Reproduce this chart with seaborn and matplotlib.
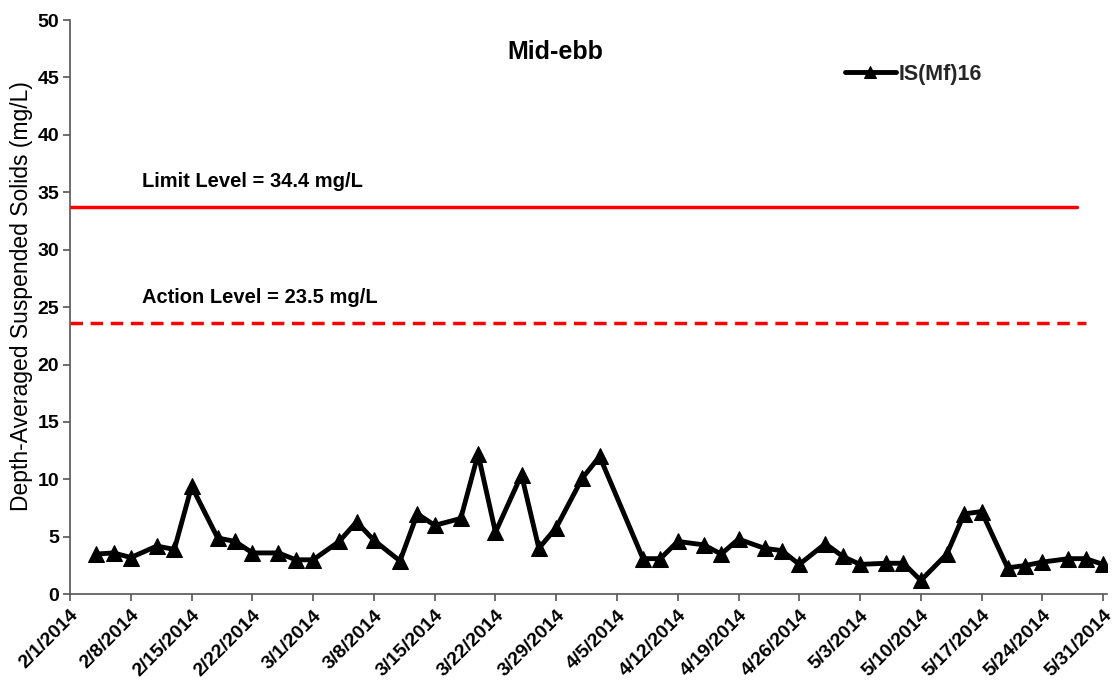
import numpy as np
import pandas as pd
import seaborn as sns
import matplotlib.pyplot as plt
import matplotlib.dates as mdates

# fechas de muestreo y SS promedio en profundidad (mg/L)
dates = ["2014-02-04", "2014-02-06", "2014-02-08", "2014-02-11", "2014-02-13",
         "2014-02-15", "2014-02-18", "2014-02-20", "2014-02-22", "2014-02-25",
         "2014-02-27", "2014-03-01", "2014-03-04", "2014-03-06", "2014-03-08",
         "2014-03-11", "2014-03-13", "2014-03-15", "2014-03-18", "2014-03-20",
         "2014-03-22", "2014-03-25", "2014-03-27", "2014-03-29", "2014-04-01",
         "2014-04-03", "2014-04-08", "2014-04-10", "2014-04-12", "2014-04-15",
         "2014-04-17", "2014-04-19", "2014-04-22", "2014-04-24", "2014-04-26",
         "2014-04-29", "2014-05-01", "2014-05-03", "2014-05-06", "2014-05-08",
         "2014-05-10", "2014-05-13", "2014-05-15", "2014-05-17", "2014-05-20",
         "2014-05-22", "2014-05-24", "2014-05-27", "2014-05-29", "2014-05-31"]
ss = [3.5, 3.6, 3.2, 4.2, 3.9, 9.4, 4.9, 4.6, 3.6, 3.6,
      3.0, 3.0, 4.6, 6.3, 4.7, 2.9, 7.0, 6.0, 6.6, 12.2,
      5.4, 10.4, 4.0, 5.8, 10.1, 12.0, 3.1, 3.1, 4.6, 4.3,
      3.5, 4.8, 4.0, 3.8, 2.6, 4.4, 3.3, 2.6, 2.7, 2.7,
      1.2, 3.5, 7.0, 7.2, 2.3, 2.5, 2.8, 3.1, 3.1, 2.6]

limit_line = 33.7
action_line = 23.6
limit_dates = ["2014-02-01", "2014-05-28"]
action_dates = ["2014-02-01", "2014-05-29"]

tick_dates = pd.date_range("2014-02-01", "2014-05-31", freq="7D")

df = pd.DataFrame({"fecha": pd.to_datetime(dates), "ss": ss})

sns.set_style("ticks")
plt.rcParams['font.family'] = ['Liberation Sans', 'DejaVu Sans']

fig = plt.figure(figsize=(11.13, 6.91), dpi=100)
ax = fig.add_axes([0.063, 0.140, 0.932, 0.831])

ax.plot(pd.to_datetime(limit_dates), [limit_line] * 2, color='#ff0000', lw=2.5)
ax.plot(pd.to_datetime(action_dates), [action_line] * 2, color='#ff0000', lw=2.5,
        ls=(0, (3.6, 2.2)))

sns.lineplot(data=df, x="fecha", y="ss", ax=ax, color='black', lw=3.5,
             marker='^', markersize=11, markeredgecolor='black',
             label="IS(Mf)16")

ax.text(pd.Timestamp("2014-02-09 06:00"), 35.5, "Limit Level = 34.4 mg/L",
        fontsize=14.5, fontweight='bold', color='black')
ax.text(pd.Timestamp("2014-02-09 06:00"), 25.4, "Action Level = 23.5 mg/L",
        fontsize=14.5, fontweight='bold', color='black')
ax.text(pd.Timestamp("2014-03-28 22:00"), 46.6, "Mid-ebb", fontsize=18,
        fontweight='bold', ha='center', color='black')

ax.set_ylim(0, 50)
ax.set_yticks(range(0, 51, 5))
ax.set_xlim(pd.Timestamp("2014-02-01"), pd.Timestamp("2014-05-31 12:00"))
ax.set_xticks(tick_dates)
ax.set_xticklabels([f"{d.month}/{d.day}/{d.year}" for d in tick_dates],
                   rotation=45, ha='right', rotation_mode='anchor')

for lab in ax.get_xticklabels() + ax.get_yticklabels():
    lab.set_fontweight('bold')
    lab.set_fontsize(14)
    lab.set_color('black')
ax.tick_params(direction='out', length=5, color='#555555', width=1.2)
ax.tick_params(axis='x', pad=4)
ax.tick_params(axis='y', pad=3)

ax.set_xlabel("")
ax.set_ylabel("Depth-Averaged Suspended Solids (mg/L)", fontsize=16.5, color='black')
ax.yaxis.set_label_coords(-0.036, 0.52)

for s in ['top', 'right']:
    ax.spines[s].set_visible(False)
for s in ['left', 'bottom']:
    ax.spines[s].set_color('#555555')
    ax.spines[s].set_linewidth(1.2)

leg = ax.legend(loc='center left', bbox_to_anchor=(0.728, 0.906), frameon=False,
                handlelength=2.4, handletextpad=0.1, markerscale=0.8,
                prop={'weight': 'bold', 'size': 15.5})

fig.savefig("out.png", dpi=100)
